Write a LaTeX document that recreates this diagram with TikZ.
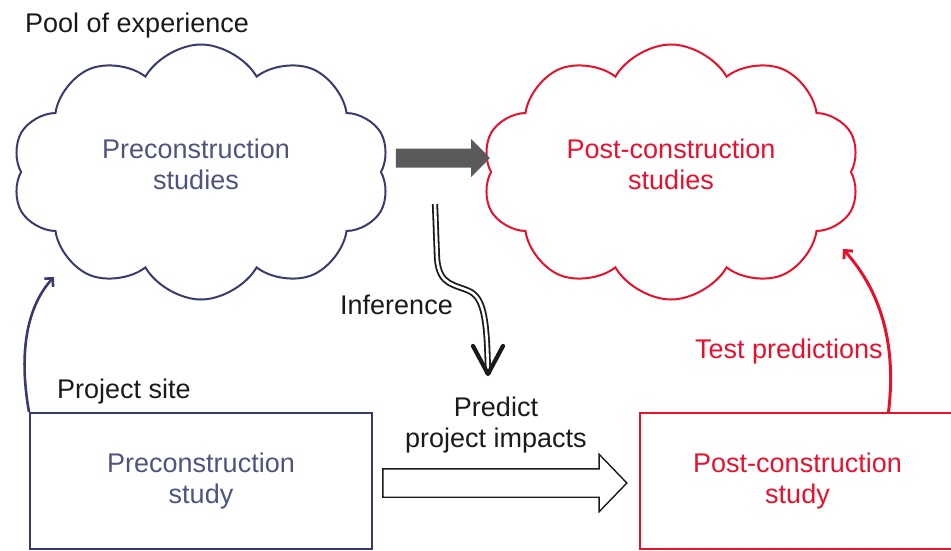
\documentclass[tikz,border=0pt]{standalone}
\usepackage{fontspec}
\setmainfont{Liberation Sans}
\usetikzlibrary{shapes.symbols,shapes.arrows,arrows.meta}
\definecolor{navy}{HTML}{383C6C}
\definecolor{navytext}{HTML}{4D557E}
\definecolor{signal}{HTML}{E8112D}
\definecolor{steel}{HTML}{5A5A5A}
\definecolor{ink}{HTML}{1A1A1A}

\begin{document}
\begin{tikzpicture}[x=1pt, y=-1pt,
  every node/.style={font=\fontsize{27}{31}\selectfont, inner sep=0pt, text=ink},
  pool/.style={cloud, draw, cloud puffs=10, cloud puff arc=120, aspect=1.45,
    line width=2pt, minimum width=378pt, minimum height=255pt},
  study/.style={rectangle, draw, line width=2pt, minimum height=136pt},
  caption/.style={align=center}]

  % Page frame
  \useasboundingbox (0,0) rectangle (951,551);

  % Pool of experience
  \node[anchor=base west] (pooltitle) at (25,33) {Pool of experience};
  \node[pool, draw=navy] (precloud) at (201,172) {};
  \node[caption, text=navytext] (precloudtext) at ([xshift=-5pt, yshift=8pt]precloud.center)
    {Preconstruction\\studies};
  \node[pool, draw=signal] (postcloud) at (671,172) {};
  \node[caption, text=signal] (postcloudtext) at ([yshift=8pt]postcloud.center)
    {Post-construction\\studies};

  % Grey arrow between the clouds
  \draw[steel, line width=19pt, -{Triangle[length=19pt, width=37pt]}]
    ([xshift=14pt, yshift=14pt]precloud.east) -- ([yshift=14pt]postcloud.west);

  % Inference arrow
  \coordinate (infstart) at (435,204);
  \coordinate (infend) at (488,374);
  \draw[ink, double=white, double distance=2.6pt, line width=1.8pt]
    (infstart) -- (437,258) .. controls (439,287) and (456,284) .. (471,292)
    .. controls (485,300) and (487,325) .. (infend);
  \draw[ink, line width=4.2pt, line join=round, line cap=round]
    ([xshift=-15pt, yshift=28pt]infend) -- (infend) -- ([xshift=15pt, yshift=28pt]infend);
  \node[anchor=base west] (inference) at (340,314) {Inference};

  % Project site
  \node[anchor=base west] (site) at (57,398) {Project site};
  \node[study, draw=navy, minimum width=342pt, caption, text=navytext] (prestudy)
    at (201,481) {Preconstruction\\study};
  \node[study, draw=signal, minimum width=315pt, caption, text=signal] (poststudy)
    at (797.5,481) {Post-construction\\study};

  % Prediction arrow
  \node[single arrow, draw=ink, fill=white, line width=1.4pt, inner sep=13.5pt,
    minimum height=244pt, single arrow head extend=14.5pt, single arrow tip angle=92,
    single arrow head indent=0pt] (predict) at (498,483) {};
  \node[caption] (predicttext) at (496,425) {Predict\\project impacts};

  % Feedback arrows
  \coordinate (prein) at (54,277);
  \coordinate (postin) at (843,249);
  \draw[navy, line width=2.6pt, -{Straight Barb[length=6pt, width=12pt]}]
    (prestudy.north west) .. controls (18,350) and (28,305) .. (prein);
  \draw[signal, line width=3pt, -{Straight Barb[length=6pt, width=12pt]}]
    ([xshift=91pt]poststudy.north) .. controls (896,350) and (884,295) .. (postin);
  \node[anchor=base west, text=signal] (test) at (695,358) {Test predictions};

\end{tikzpicture}
\end{document}
